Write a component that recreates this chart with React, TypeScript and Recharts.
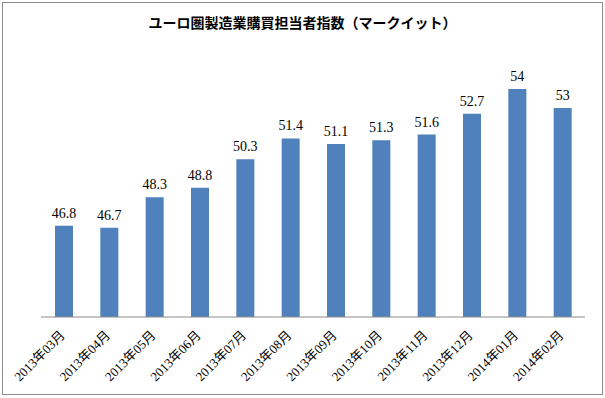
import React from "react";
import { BarChart, Bar, XAxis, YAxis, LabelList } from "recharts";

const months = [
  "2013年03月",
  "2013年04月",
  "2013年05月",
  "2013年06月",
  "2013年07月",
  "2013年08月",
  "2013年09月",
  "2013年10月",
  "2013年11月",
  "2013年12月",
  "2014年01月",
  "2014年02月",
];
const pmi = [46.8, 46.7, 48.3, 48.8, 50.3, 51.4, 51.1, 51.3, 51.6, 52.7, 54, 53];

const chartData = months.map((month, i) => ({ month, pmi: pmi[i] }));

const serif = '"Liberation Serif", "Times New Roman", "Noto Sans CJK JP", serif';

// rotated month labels, anchored at their right end below the axis
const MonthTick = ({ x, y, payload }: any) => (
  <text
    x={x + 2}
    y={y + 11}
    textAnchor="end"
    fontSize={13}
    fontFamily={serif}
    fill="#000"
    transform={`rotate(-45, ${x + 2}, ${y + 11})`}
  >
    {payload.value}
  </text>
);

export default function App() {
  return (
    <div style={{ position: "absolute", left: 0, top: 0, width: 605, height: 398, background: "#fff" }}>
      <div
        style={{
          position: "absolute",
          left: 2,
          top: 2,
          width: 599,
          height: 391,
          border: "1px solid #8c8c8c",
        }}
      />
      <div
        style={{
          position: "absolute",
          left: 0,
          top: 12,
          width: 605,
          textAlign: "center",
          fontFamily: '"Noto Sans CJK JP", sans-serif',
          fontWeight: "bold",
          fontSize: 14,
          color: "#000",
        }}
      >
        ユーロ圏製造業購買担当者指数（マークイット）
      </div>
      <BarChart
        width={605}
        height={398}
        data={chartData}
        margin={{ top: 51, right: 20, left: 41, bottom: 0 }}
        style={{ position: "absolute", left: 0, top: 0 }}
      >
        <XAxis
          dataKey="month"
          height={81}
          interval={0}
          tickLine={false}
          stroke="#8c8c8c"
          tick={<MonthTick />}
        />
        <YAxis hide domain={[42, 56]} allowDataOverflow />
        <Bar dataKey="pmi" fill="#4f81bd" barSize={18} isAnimationActive={false}>
          <LabelList
            dataKey="pmi"
            position="top"
            offset={8}
            fontSize={14}
            fontFamily={serif}
            fill="#000"
          />
        </Bar>
      </BarChart>
    </div>
  );
}
